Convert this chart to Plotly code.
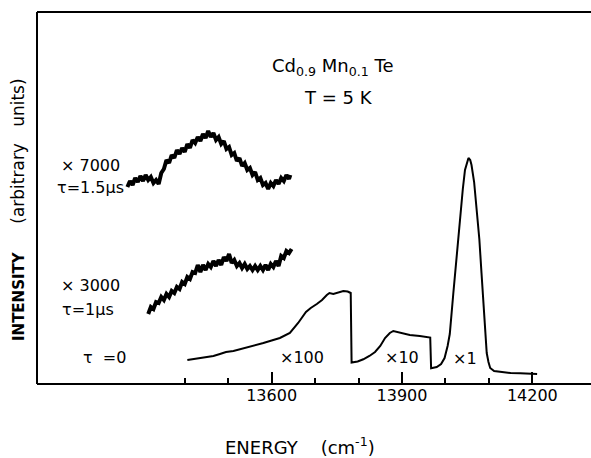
import plotly.graph_objects as go

# ---- data (energy in cm^-1, intensity in arbitrary units) ----
e_t0 = [13406, 13420, 13435, 13450, 13466, 13481, 13495, 13512, 13530, 13542, 13560, 13581,
        13600, 13619, 13642, 13661, 13679, 13690, 13704, 13716, 13727, 13733, 13742, 13750,
        13765, 13775, 13782, 13784,
        13798, 13811, 13825, 13838, 13850, 13861, 13872, 13880, 13890, 13899, 13918, 13941,
        13955, 13965, 13967,
        13980, 13990, 13998, 14005, 14010, 14018, 14026, 14033, 14040, 14045, 14050, 14053,
        14057, 14060, 14066, 14072, 14078, 14083, 14089, 14095, 14099, 14103, 14112, 14126,
        14150, 14172, 14202, 14211]
i_t0 = [24, 25, 26, 27, 28, 30, 32, 33, 35, 36, 38.5, 41,
        43.5, 46, 51, 61, 72, 76, 80, 84, 89, 91, 90, 91,
        93, 92.5, 91, 21.5,
        22.5, 24.7, 28, 32, 38, 46, 51, 53, 52, 51, 49, 48,
        47, 46.5, 15.7,
        17, 20, 26, 38, 50, 90, 130, 161, 195, 214, 223, 226,
        224, 219, 202, 177, 145, 111, 70, 31, 22, 16, 13, 12,
        11, 10.7, 10, 10]

e_1us = [13316, 13322, 13328, 13334, 13340, 13346, 13352, 13358, 13364, 13370, 13376, 13382,
         13388, 13394, 13400, 13406, 13412, 13418, 13424, 13430, 13436, 13442, 13448, 13454,
         13460, 13466, 13472, 13478, 13484, 13490, 13496, 13502, 13508, 13514, 13520, 13526,
         13532, 13538, 13544, 13550, 13556, 13562, 13568, 13574, 13580, 13586, 13592, 13598,
         13604, 13610, 13616, 13622, 13628, 13634, 13640, 13646]
i_1us = [70, 77, 75, 82, 81, 87, 84, 90, 87, 93, 91, 97,
         95, 102, 100, 107, 105, 112, 111, 119, 112, 119, 114, 120,
         117, 123, 118, 124, 119, 127, 123, 130, 121, 124, 118, 121,
         116, 120, 115, 118, 114, 118, 114, 118, 114, 119, 114, 120,
         117, 123, 118, 128, 126, 133, 131, 135]

e_15us = [13268, 13274, 13280, 13286, 13292, 13298, 13304, 13310, 13316, 13322, 13328, 13334,
          13340, 13346, 13352, 13358, 13364, 13370, 13376, 13382, 13388, 13394, 13400, 13406,
          13412, 13418, 13424, 13430, 13436, 13442, 13448, 13454, 13460, 13466, 13472, 13478,
          13484, 13490, 13496, 13502, 13508, 13514, 13520, 13526, 13532, 13538, 13544, 13550,
          13556, 13562, 13568, 13574, 13580, 13586, 13592, 13598, 13604, 13610, 13616, 13622,
          13628, 13634, 13640, 13643]
i_15us = [197, 203, 199, 206, 202, 208, 203, 209, 204, 207, 201, 204,
          200, 211, 215, 224, 221, 229, 226, 234, 230, 236, 232, 240,
          236, 244, 241, 247, 243, 250, 246, 253, 247, 251, 244, 247,
          240, 243, 235, 237, 229, 231, 223, 226, 218, 221, 214, 216,
          209, 212, 204, 206, 199, 201, 195, 201, 198, 204, 200, 206,
          203, 209, 205, 209]

major_ticks = [13600, 13900, 14200]
major_labels = ["13600", "13900", "14200"]
minor_ticks = [13400, 13500, 13700, 13800, 14000, 14100]

x_range = [13060, 14335]
y_range = [0, 372]

FONT = "DejaVu Sans"

fig = go.Figure()
fig.add_trace(go.Scatter(x=e_t0, y=i_t0, mode="lines",
                         line=dict(color="black", width=2), showlegend=False))
fig.add_trace(go.Scatter(x=e_1us, y=i_1us, mode="lines",
                         line=dict(color="black", width=4), showlegend=False))
fig.add_trace(go.Scatter(x=e_15us, y=i_15us, mode="lines",
                         line=dict(color="black", width=4), showlegend=False))

labels = [
    (13739, 317, "Cd<sub>0.9</sub> Mn<sub>0.1</sub> Te", 18),
    (13753, 287, "T = 5 K", 18),
    (13182, 219, "× 7000", 16),
    (13182, 197, "τ=1.5µs", 16),
    (13182, 99, "× 3000", 16),
    (13178, 75, "τ=1µs", 16),
    (13216, 27, "τ  =0", 16),
    (13669, 27, "×100", 16),
    (13899, 27, "×10", 16),
    (14045, 26, "×1", 16),
]
for x, y, t, s in labels:
    fig.add_annotation(x=x, y=y, xref="x", yref="y", text=t, showarrow=False,
                       font=dict(family=FONT, size=s, color="black"),
                       xanchor="center", yanchor="middle")

fig.add_annotation(xref="paper", yref="paper", x=0.4747, y=-0.1667,
                   text="ENERGY    (cm<sup>-1</sup>)", showarrow=False,
                   font=dict(family=FONT, size=18, color="black"),
                   xanchor="center", yanchor="middle")
fig.add_annotation(xref="paper", yref="paper", x=-0.0343, y=0.4704,
                   text="<b>INTENSITY</b>      <span style='font-size:17px'>(arbitrary   units)</span>",
                   showarrow=False, textangle=-90,
                   font=dict(family=FONT, size=15, color="black"),
                   xanchor="center", yanchor="middle")

# frame: left, top and bottom only (no right edge, as in the original)
frame = [((0, 0), (0, 1)), ((0, 1), (1, 1)), ((0, 0), (1, 0))]
for (x0, y0), (x1, y1) in frame:
    fig.add_shape(type="line", xref="paper", yref="paper", x0=x0, y0=y0, x1=x1, y1=y1,
                  line=dict(color="black", width=2), layer="above")

fig.update_layout(
    width=591, height=458,
    margin=dict(l=37, r=0, t=12, b=74),
    paper_bgcolor="white", plot_bgcolor="white",
    font=dict(family=FONT, color="black"),
    xaxis=dict(range=x_range, showgrid=False, zeroline=False, showline=False,
               tickmode="array", tickvals=major_ticks, ticktext=major_labels,
               ticks="inside", ticklen=12, tickwidth=1.5, tickcolor="black",
               tickfont=dict(family=FONT, size=16, color="black"),
               minor=dict(tickmode="array", tickvals=minor_ticks, ticks="inside",
                          ticklen=6, tickwidth=1.5, tickcolor="black", showgrid=False)),
    yaxis=dict(range=y_range, showgrid=False, zeroline=False, showline=False,
               showticklabels=False, ticks=""),
)

fig.write_html("out.html")
